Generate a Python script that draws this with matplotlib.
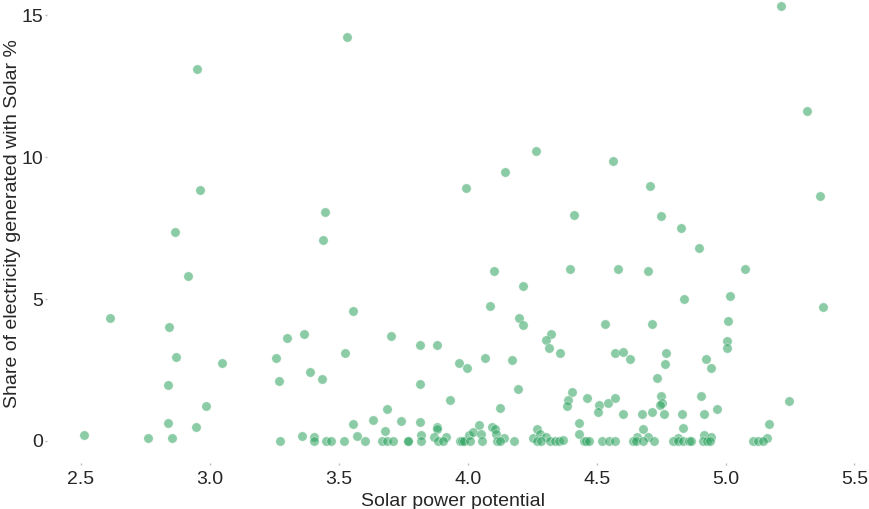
import matplotlib
matplotlib.use("Agg")
import matplotlib.pyplot as plt
import numpy as np

# solar power potential (x) and share of electricity from solar in % (y)
solar_potential = [
    2.949, 2.962, 2.865, 2.916, 2.612, 2.843, 2.870, 3.048, 2.836, 2.984,
    2.836, 2.947, 2.512, 2.761, 2.853,
    3.531, 3.446, 3.440, 3.995, 4.103, 4.087, 3.555,
    3.298, 3.365, 3.258, 3.267, 3.387, 3.435, 3.524, 3.704, 3.816, 3.816,
    3.686, 3.554, 3.632, 3.740, 3.816, 3.678, 3.356, 3.403, 3.571, 3.818,
    3.272, 3.405, 3.450, 3.468, 3.521, 3.603, 3.666, 3.688, 3.709, 3.767,
    3.770, 3.818,
    3.882, 3.966, 3.997, 4.066, 4.173, 4.198, 4.213, 4.196, 3.933, 4.125,
    4.323, 4.303, 4.315, 4.359, 4.405, 4.389, 4.386, 4.433, 4.433, 3.882,
    3.882, 3.870, 3.917, 3.886, 3.903, 3.970, 3.979, 3.986, 4.004, 4.022,
    4.044, 4.052, 4.009, 4.056, 4.093, 4.105, 4.110, 4.142, 4.115, 4.125,
    4.178, 4.254, 4.269, 4.282, 4.304, 4.269, 4.283, 4.319, 4.339, 4.355,
    4.371,
    4.533, 4.716, 5.009, 4.571, 4.602, 4.630, 4.770, 4.764, 4.924, 4.945,
    5.006, 5.006, 4.736, 4.464, 4.508, 4.507, 4.543, 4.571, 4.601, 4.677,
    4.714, 4.751, 4.755, 4.746, 4.760, 4.830, 4.904, 4.918, 4.966, 4.679,
    4.834, 4.656, 4.698, 4.816, 4.917, 4.945,
    4.449, 4.459, 4.471, 4.522, 4.549, 4.571, 4.642, 4.654, 4.680, 4.724,
    4.798, 4.817, 4.836, 4.860, 4.867, 4.912, 4.927, 4.940,
    5.215, 5.317, 5.367, 5.379, 4.265, 4.144, 4.564, 4.708, 4.414, 4.750,
    4.829, 4.896, 4.396, 4.584, 4.699, 5.077, 4.216, 4.838, 5.018,
    5.248, 5.169, 5.160, 5.107, 5.126, 5.146,
]
solar_share = [
    13.10, 8.83, 7.36, 5.82, 4.32, 4.02, 2.95, 2.76, 1.97, 1.24,
    0.62, 0.48, 0.20, 0.10, 0.10,
    14.24, 8.07, 7.07, 8.90, 6.00, 4.75, 4.59,
    3.62, 3.77, 2.91, 2.11, 2.44, 2.17, 3.09, 3.71, 3.37, 2.02,
    1.14, 0.59, 0.73, 0.69, 0.66, 0.36, 0.18, 0.13, 0.18, 0.20,
    0.0, 0.0, 0.0, 0.0, 0.0, 0.0, 0.0, 0.0, 0.0, 0.0,
    0.0, 0.0,
    3.37, 2.74, 2.58, 2.91, 2.84, 4.34, 4.08, 1.82, 1.43, 1.17,
    3.76, 3.56, 3.26, 3.09, 1.74, 1.45, 1.23, 0.62, 0.24, 0.50,
    0.42, 0.15, 0.15, 0.0, 0.0, 0.0, 0.0, 0.0, 0.21, 0.31,
    0.56, 0.25, 0.0, 0.0, 0.50, 0.43, 0.25, 0.10, 0.0, 0.0,
    0.0, 0.11, 0.43, 0.25, 0.15, 0.0, 0.0, 0.0, 0.0, 0.0,
    0.03,
    4.11, 4.11, 4.21, 3.11, 3.13, 2.88, 3.11, 2.70, 2.89, 2.58,
    3.52, 3.26, 2.21, 1.50, 1.26, 1.02, 1.35, 1.51, 0.94, 0.94,
    1.02, 1.57, 1.34, 1.27, 0.94, 0.94, 1.57, 0.94, 1.13, 0.43,
    0.46, 0.15, 0.15, 0.11, 0.21, 0.15,
    0.0, 0.0, 0.0, 0.0, 0.0, 0.0, 0.0, 0.0, 0.0, 0.0,
    0.0, 0.0, 0.0, 0.0, 0.0, 0.0, 0.0, 0.0,
    15.33, 11.61, 8.63, 4.71, 10.21, 9.47, 9.87, 8.97, 7.96, 7.93,
    7.51, 6.80, 6.05, 6.05, 6.00, 6.06, 5.46, 4.99, 5.12,
    1.42, 0.61, 0.11, 0.0, 0.0, 0.0,
]

plt.rcParams['font.family'] = ['Liberation Sans', 'DejaVu Sans']
text_col = '#262626'

fig = plt.figure(figsize=(8.69, 5.09), dpi=100)
ax = fig.add_axes([0.0541, 0.0904, 0.9351, 0.9096])

ax.scatter(solar_potential, solar_share, s=46, color='#2ca25f', alpha=0.55,
           edgecolors='white', linewidths=0.5, clip_on=False)

ax.set_xlim(2.368, 5.52)
ax.set_ylim(-0.775, 15.53)
ax.set_xticks([2.5, 3.0, 3.5, 4.0, 4.5, 5.0, 5.5])
ax.set_yticks([0, 5, 10, 15])
ax.set_yticklabels(['0', '5', '10', '15'])

for s in ax.spines.values():
    s.set_visible(False)
ax.tick_params(axis='both', length=1.5, width=1, color='#bbbbbb',
               labelsize=14, labelcolor=text_col)
ax.tick_params(axis='x', pad=4)
ax.tick_params(axis='y', pad=1.5)

ax.set_xlabel('Solar power potential', fontsize=14, color=text_col, labelpad=4)
ax.set_ylabel('Share of electricity generated with Solar %', fontsize=14,
              color=text_col)
ax.yaxis.set_label_coords(-0.032, 0.517)

fig.savefig('out.png', dpi=100)
